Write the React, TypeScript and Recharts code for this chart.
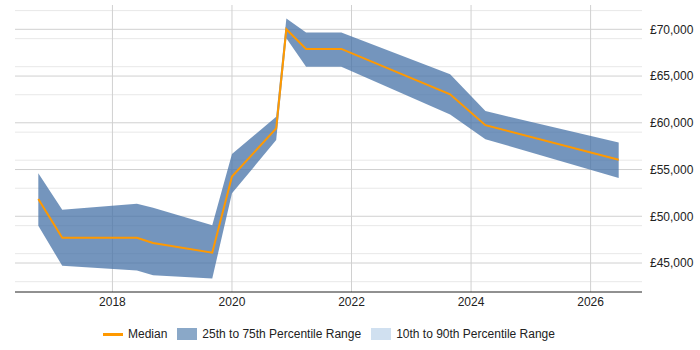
import React from 'react';
import {
  ComposedChart,
  Area,
  Line,
  XAxis,
  YAxis,
  CartesianGrid,
  Legend,
} from 'recharts';

// Salary percentiles over time (decimal year on x)
const years = [2016.76, 2017.16, 2018.41, 2018.68, 2019.67, 2020.0, 2020.74, 2020.91, 2021.24, 2021.83, 2023.65, 2024.24, 2026.47];
const median = [51850, 47700, 47700, 47150, 46100, 54250, 59400, 70000, 67900, 67900, 63050, 59750, 56050];
const p25 = [49000, 44700, 44200, 43700, 43350, 52450, 58150, 69050, 66000, 66000, 60900, 58250, 54100];
const p75 = [54600, 50700, 51350, 50900, 49050, 56650, 60650, 71150, 69650, 69650, 65200, 61250, 57900];

const yearTicks = [2018, 2020, 2022, 2024, 2026];
const majorTicks = [45000, 50000, 55000, 60000, 65000, 70000];
const minorTicks = [42000, 43000, 44000, 46000, 47000, 48000, 49000, 51000, 52000, 53000, 54000, 56000, 57000, 58000, 59000, 61000, 62000, 63000, 64000, 66000, 67000, 68000, 69000, 71000, 72000];

const data = years.map((year, i) => ({
  year,
  median: median[i],
  range: [p25[i], p75[i]],
}));

const fmt = (v: number) => '£' + v.toLocaleString('en-GB');

const LegendBox = () => (
  <div
    style={{
      display: 'flex',
      justifyContent: 'flex-start',
      alignItems: 'center',
      height: 34,
      fontSize: 12,
      color: '#222',
      fontFamily: '"Liberation Sans", Arial, sans-serif',
      paddingLeft: 88,
      paddingTop: 2,
      boxSizing: 'border-box',
    }}
  >
    <span style={{ display: 'inline-block', width: 20, height: 3, background: '#ff9900', marginRight: 5 }} />
    <span style={{ marginRight: 10 }}>Median</span>
    <span style={{ display: 'inline-block', width: 20, height: 12, background: '#8aa8c8', marginRight: 5 }} />
    <span style={{ marginRight: 10 }}>25th to 75th Percentile Range</span>
    <span style={{ display: 'inline-block', width: 20, height: 12, background: '#d0e0f0', marginRight: 5 }} />
    <span>10th to 90th Percentile Range</span>
  </div>
);

export default function App() {
  return (
    <div style={{ position: 'absolute', left: 0, top: 0, fontFamily: '"Liberation Sans", Arial, sans-serif' }}>
      <ComposedChart width={700} height={350} data={data} margin={{ top: 5, right: 0, bottom: 0, left: 15 }}>
        <CartesianGrid horizontalValues={minorTicks} vertical={false} stroke="#e8e8e8" strokeDasharray="" />
        <CartesianGrid horizontalValues={majorTicks} verticalValues={yearTicks} stroke="#d0d0d0" strokeDasharray="" />
        <XAxis
          dataKey="year"
          type="number"
          domain={[2016.37, 2026.86]}
          ticks={yearTicks}
          tickLine={false}
          tickSize={4}
          tickMargin={1}
          axisLine={{ stroke: '#222' }}
          height={24}
          tick={{ fontSize: 12, fill: '#222' }}
          allowDataOverflow
        />
        <YAxis
          orientation="right"
          domain={[41900, 72600]}
          ticks={majorTicks}
          tickFormatter={fmt}
          tickLine={false}
          axisLine={false}
          width={58}
          tick={{ fontSize: 12, fill: '#222', textAnchor: 'start' }}
          allowDataOverflow
        />
        <Area
          type="linear"
          dataKey="range"
          stroke="none"
          fill="#4572a7"
          fillOpacity={0.75}
          isAnimationActive={false}
        />
        <Line
          type="linear"
          dataKey="median"
          stroke="#ff9900"
          strokeWidth={2}
          dot={false}
          isAnimationActive={false}
        />
        <Legend verticalAlign="bottom" height={34} content={() => <LegendBox />} />
      </ComposedChart>
    </div>
  );
}
